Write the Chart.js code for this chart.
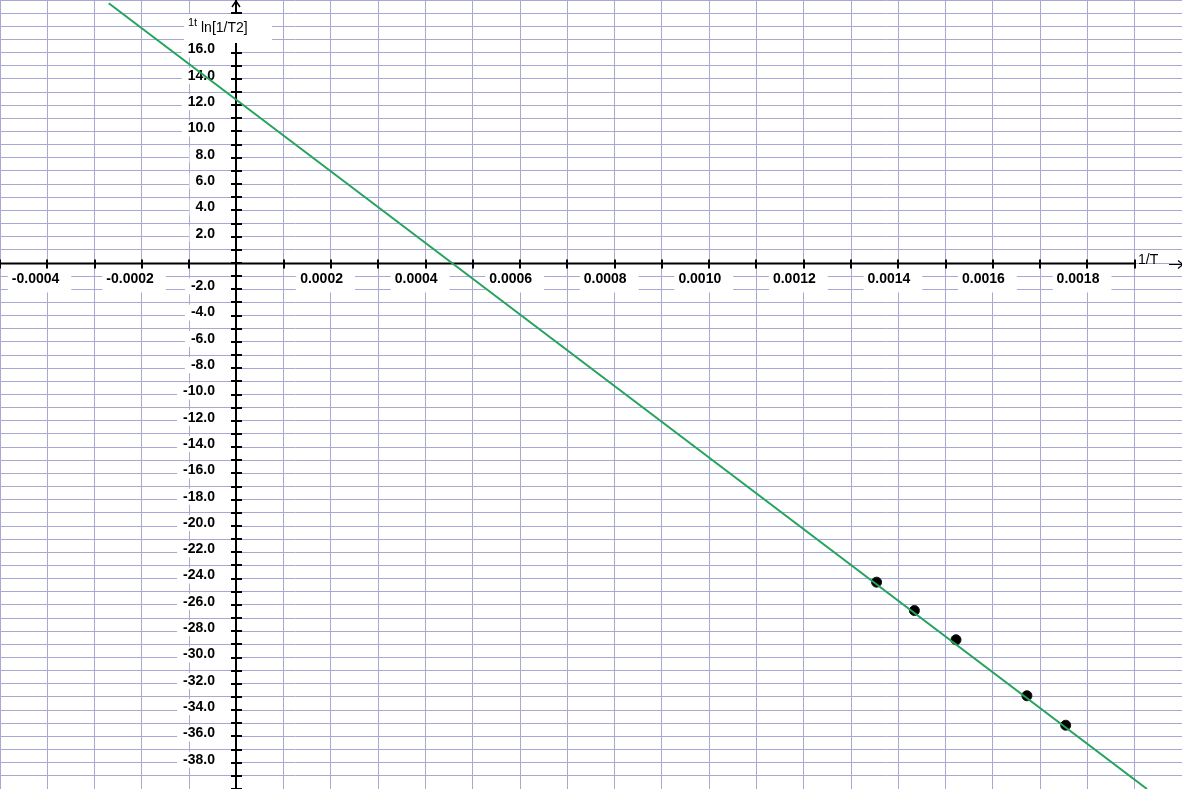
<!DOCTYPE html>
<html>
<head>
<meta charset="utf-8">
<title>ln[1/T2] vs 1/T</title>
<script src="https://cdn.jsdelivr.net/npm/chart.js@4.4.0/dist/chart.umd.min.js"></script>
<style>
  html, body { margin: 0; padding: 0; background: #fff; overflow: hidden; }
  #wrap { width: 1182px; height: 789px; }
</style>
</head>
<body>
<div id="wrap"><canvas id="chart" width="1182" height="789"></canvas></div>
<script>
// measured points (1/T, ln[1/T2])
const invT = [0.001354, 0.001434, 0.001522, 0.001672, 0.001754];
const lnVals = [-24.27, -26.43, -28.65, -32.91, -35.15];

// fitted line, both ends
const fitX = [-0.00027, 0.001926];
const fitY = [19.75, -40.0];

// labelled ticks (every other tick carries a label)
const xTickLabels = ['-0.0004', '-0.0002', '0.0002', '0.0004', '0.0006', '0.0008',
    '0.0010', '0.0012', '0.0014', '0.0016', '0.0018'];
const yTickLabels = ['16.0', '14.0', '12.0', '10.0', '8.0', '6.0', '4.0', '2.0',
    '-2.0', '-4.0', '-6.0', '-8.0', '-10.0', '-12.0', '-14.0', '-16.0', '-18.0',
    '-20.0', '-22.0', '-24.0', '-26.0', '-28.0', '-30.0', '-32.0', '-34.0',
    '-36.0', '-38.0'];

const gridColor = '#a8a8d2';
const labelFont = 'bold 14px "Liberation Sans", Arial, sans-serif';
const titleFont = '14px "Liberation Sans", Arial, sans-serif';

// axis lines, crossing tick marks, tick labels, arrows and axis titles
const axesPlugin = {
    id: 'axes',
    beforeDatasetsDraw(chart) {
        const { ctx, scales: { x, y } } = chart;
        const x0 = Math.round(x.getPixelForValue(0));
        const y0 = Math.round(y.getPixelForValue(0)) + 0.5;
        const xEnd = Math.round(x.getPixelForValue(0.0019));

        ctx.save();
        ctx.font = labelFont;
        ctx.textBaseline = 'middle';

        // x tick labels: right aligned a little past the tick
        x.ticks.forEach(t => {
            const s = Number(t.value).toFixed(4);
            if (!xTickLabels.includes(s)) return;
            const p = x.getPixelForValue(t.value);
            const w = ctx.measureText(s).width;
            ctx.fillStyle = '#fff';
            ctx.fillRect(p + 12 - w - 4, y0 + 4, w + 16, 25);
            ctx.fillStyle = '#000';
            ctx.textAlign = 'right';
            ctx.fillText(s, p + 12, y0 + 16);
        });

        // y tick labels left of the axis
        y.ticks.forEach(t => {
            const s = Number(t.value).toFixed(1);
            if (!yTickLabels.includes(s)) return;
            const p = y.getPixelForValue(t.value);
            const w = ctx.measureText(s).width;
            ctx.fillStyle = '#fff';
            ctx.fillRect(x0 - 21 - w - 6, p - 11, w + 23, 16);
            ctx.fillStyle = '#000';
            ctx.textAlign = 'right';
            ctx.fillText(s, x0 - 21, p - 3);
        });

        ctx.strokeStyle = '#000';
        ctx.lineWidth = 2;
        ctx.beginPath();
        ctx.moveTo(0, y0);
        ctx.lineTo(xEnd, y0);
        ctx.moveTo(x0, 0);
        ctx.lineTo(x0, chart.height);

        x.ticks.forEach(t => {
            if (t.value > 0.00191) return;
            const p = Math.round(x.getPixelForValue(t.value));
            ctx.moveTo(p, y0 - 4);
            ctx.lineTo(p, y0 + 5);
        });
        y.ticks.forEach(t => {
            if (t.value > 19.5) return;
            const p = Math.round(y.getPixelForValue(t.value));
            ctx.moveTo(x0 - 5, p);
            ctx.lineTo(x0 + 6, p);
        });
        ctx.stroke();

        // arrow on top of the y axis
        ctx.lineWidth = 1.5;
        ctx.beginPath();
        ctx.moveTo(x0 - 4, 7);
        ctx.lineTo(x0, 1);
        ctx.lineTo(x0 + 4, 7);
        ctx.stroke();

        // arrow after the x axis title
        ctx.lineWidth = 1.2;
        ctx.beginPath();
        ctx.moveTo(xEnd + 34, y0 + 1);
        ctx.lineTo(xEnd + 48, y0 + 1);
        ctx.moveTo(xEnd + 43, y0 - 3);
        ctx.lineTo(xEnd + 48, y0 + 1);
        ctx.lineTo(xEnd + 43, y0 + 5);
        ctx.stroke();

        ctx.fillStyle = '#000';
        ctx.font = titleFont;
        ctx.textAlign = 'left';
        ctx.fillText('1/T', xEnd + 3, y0 - 3);

        // y axis title in a white box
        ctx.fillStyle = '#fff';
        ctx.fillRect(x0 - 52, 14, 88, 29);
        ctx.fillStyle = '#000';
        ctx.font = '11px "Liberation Sans", Arial, sans-serif';
        ctx.textBaseline = 'top';
        ctx.fillText('1t', x0 - 48, 17);
        ctx.font = titleFont;
        ctx.textBaseline = 'middle';
        ctx.fillText('ln[1/T2]', x0 - 35, 28);
        ctx.restore();
    }
};

new Chart(document.getElementById('chart'), {
    type: 'scatter',
    data: {
        datasets: [{
            label: 'fit',
            data: fitX.map((v, i) => ({ x: v, y: fitY[i] })),
            showLine: true,
            borderColor: '#25a35c',
            borderWidth: 2,
            pointRadius: 0,
            order: 0
        }, {
            label: 'data',
            data: invT.map((v, i) => ({ x: v, y: lnVals[i] })),
            backgroundColor: '#000',
            borderColor: '#0b140b',
            borderWidth: 1,
            pointRadius: 5,
            order: 1
        }]
    },
    options: {
        responsive: false,
        animation: false,
        layout: { padding: 0, autoPadding: false },
        plugins: {
            legend: { display: false },
            tooltip: { enabled: false }
        },
        scales: {
            x: {
                type: 'linear',
                position: { y: 0 },
                min: -0.0005,
                max: 0.002,
                grid: { color: gridColor, lineWidth: 1, drawTicks: false },
                border: { display: false },
                ticks: { stepSize: 0.0001, autoSkip: false, display: false }
            },
            y: {
                type: 'linear',
                position: { x: 0 },
                min: -40,
                max: 20,
                grid: { color: gridColor, lineWidth: 1, drawTicks: false },
                border: { display: false },
                ticks: { stepSize: 1, autoSkip: false, display: false }
            }
        }
    },
    plugins: [axesPlugin]
});
</script>
</body>
</html>
